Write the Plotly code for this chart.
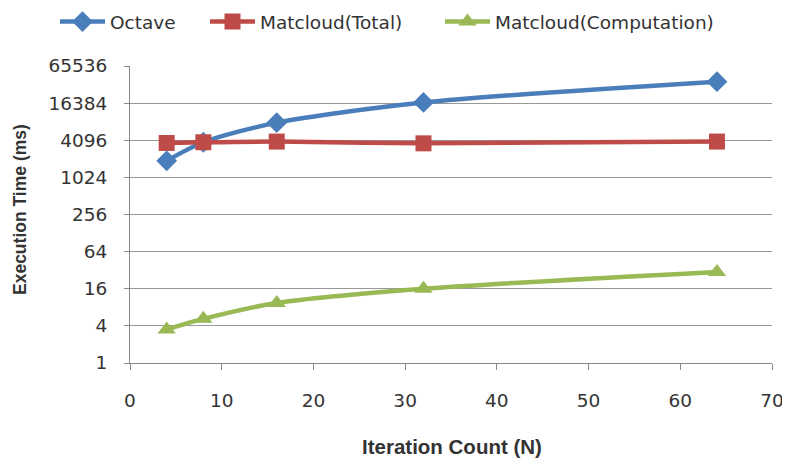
import plotly.graph_objects as go
import math

x_vals = [4, 8, 16, 32, 64]
octave = [1900, 3800, 7900, 16800, 36500]
matcloud_total = [3700, 3800, 3900, 3650, 3900]
matcloud_comp = [3.5, 5.2, 9.4, 16, 30]
y_ticks = [1, 4, 16, 64, 256, 1024, 4096, 16384, 65536]
x_ticks = [0, 10, 20, 30, 40, 50, 60, 70]

tick_font = "DejaVu Sans"
title_font = "Liberation Sans"

# page body has an ~8px offset; positions below are in screen px
OFF = 8
W, H = 790, 459
L, T = 130 - OFF, 66 - OFF
R = W - (772 - OFF)
B = H - (363 - OFF)
pw, ph = W - L - R, H - T - B

def px_x(px):
    return (px - OFF - L) / pw

def px_y(py):
    return 1 - (py - OFF - T) / ph

fig = go.Figure()
series = [
    ("Octave", octave, "#4A7EBB", "diamond", 16, "legend", 55),
    ("Matcloud(Total)", matcloud_total, "#BE4B48", "square", 16, "legend2", 205),
    ("Matcloud(Computation)", matcloud_comp, "#98B954", "triangle-up", 16, "legend3", 440),
]
legends = {}
for name, ys, col, sym, sz, lg, lx in series:
    fig.add_trace(go.Scatter(
        x=x_vals, y=ys, name=name, mode="lines+markers", legend=lg,
        line=dict(color=col, width=4.5, shape="spline", smoothing=0.8),
        marker=dict(symbol=sym, size=sz, color=col),
    ))
    legends[lg] = dict(orientation="h", x=px_x(lx), xanchor="left",
                       y=px_y(3), yanchor="top", itemwidth=45,
                       bgcolor="rgba(0,0,0,0)",
                       font=dict(size=18.5, color="#333"))

fig.update_layout(
    width=W, height=H,
    margin=dict(l=L, r=R, t=T, b=B, autoexpand=False),
    paper_bgcolor="white", plot_bgcolor="white",
    font=dict(family=tick_font, size=18.5, color="#333"),
    showlegend=True,
    **legends,
    xaxis=dict(range=[0, 70], tickvals=x_ticks, showgrid=False, zeroline=False,
               showline=True, linecolor="#888", linewidth=1, ticks="outside",
               tickcolor="#888", ticklen=6, ticklabelstandoff=15, automargin=False),
    yaxis=dict(type="log", range=[0, math.log10(65536)], tickvals=y_ticks,
               ticktext=[str(v) for v in y_ticks],
               showgrid=True, gridcolor="#999", gridwidth=1, zeroline=False,
               showline=True, linecolor="#888", linewidth=1, ticks="outside",
               tickcolor="#888", ticklen=5, ticklabelstandoff=13, automargin=False),
    annotations=[
        dict(text="<b>Iteration Count (N)</b>", xref="paper", yref="paper",
             x=px_x(452), y=px_y(446), xanchor="center", yanchor="middle",
             showarrow=False, font=dict(family=title_font, size=20.5, color="#333")),
        dict(text="<b>Execution Time (ms)</b>", xref="paper", yref="paper",
             x=px_x(20), y=px_y(210), xanchor="center", yanchor="middle",
             textangle=-90, showarrow=False, font=dict(family=title_font, size=17.5, color="#333")),
    ],
)
fig.write_html("out.html")
